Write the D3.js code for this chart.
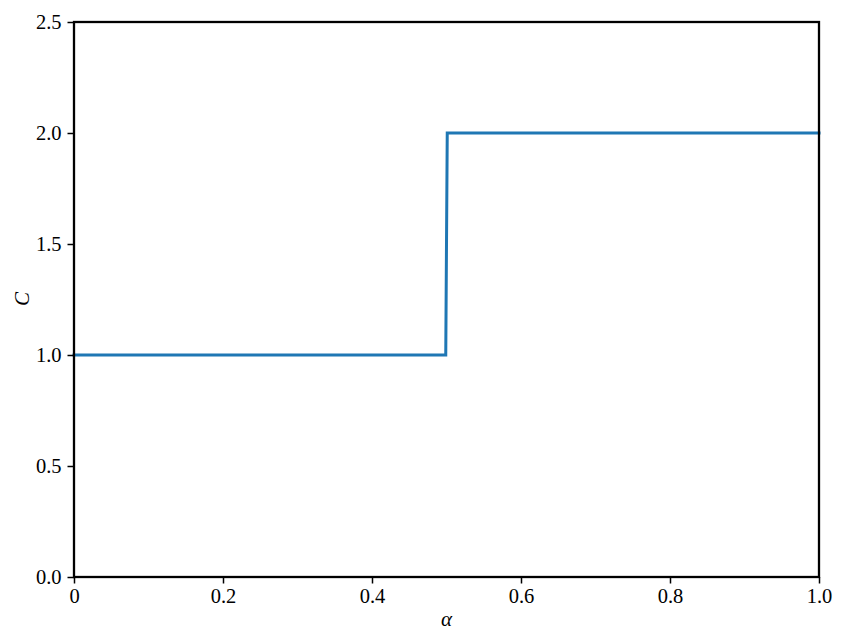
<!DOCTYPE html>
<html>
<head>
<meta charset="utf-8">
<script src="https://cdn.jsdelivr.net/npm/d3@7"></script>
<style>
  body { margin: 0; background: #fff; }
  svg text { font-family: "Liberation Serif", "DejaVu Serif", serif; }
</style>
</head>
<body>
<div id="chart"></div>
<script>
// step data: C jumps from 1 to 2 at alpha = 0.5
const alphaValues = [0, 0.499, 0.501, 1];
const cValues = [1, 1, 2, 2];
const xTicks = [0, 0.2, 0.4, 0.6, 0.8, 1.0];
const xTickLabels = ["0", "0.2", "0.4", "0.6", "0.8", "1.0"];
const yTicks = [0, 0.5, 1.0, 1.5, 2.0, 2.5];

const width = 848, height = 644;
const margin = { left: 74, right: 29, top: 22, bottom: 67 };

const svg = d3.select("#chart").append("svg")
    .attr("width", width)
    .attr("height", height);

const x = d3.scaleLinear().domain([0, 1]).range([margin.left, width - margin.right]);
const y = d3.scaleLinear().domain([0, 2.5]).range([height - margin.bottom, margin.top]);

// line
const pts = alphaValues.map((a, i) => [a, cValues[i]]);
svg.append("path")
    .datum(pts)
    .attr("fill", "none")
    .attr("stroke", "#1f77b4")
    .attr("stroke-width", 3)
    .attr("stroke-linecap", "square")
    .attr("d", d3.line().x(d => x(d[0])).y(d => y(d[1])));

// axes
const xAxis = svg.append("g")
    .attr("transform", `translate(0,${height - margin.bottom})`)
    .call(d3.axisBottom(x).tickValues(xTicks).tickFormat((d, i) => xTickLabels[i])
        .tickSizeOuter(0).tickSize(6.5).tickPadding(5));
const yAxis = svg.append("g")
    .attr("transform", `translate(${margin.left},0)`)
    .call(d3.axisLeft(y).tickValues(yTicks).tickFormat(d3.format(".1f"))
        .tickSizeOuter(0).tickSize(6.5).tickPadding(6));

[xAxis, yAxis].forEach(g => {
    g.select(".domain").remove();
    g.selectAll(".tick line").attr("stroke", "#000").attr("stroke-width", 1.5);
    g.selectAll(".tick text").attr("fill", "#000").style("font-size", "20.5px");
});
yAxis.selectAll(".tick text").attr("dy", "0.34em");

// frame
svg.append("rect")
    .attr("x", margin.left)
    .attr("y", margin.top)
    .attr("width", width - margin.left - margin.right)
    .attr("height", height - margin.top - margin.bottom)
    .attr("fill", "none")
    .attr("stroke", "#000")
    .attr("stroke-width", 2.3);

// labels
svg.append("text")
    .attr("x", (margin.left + width - margin.right) / 2)
    .attr("y", 626)
    .attr("text-anchor", "middle")
    .style("font-size", "21px")
    .style("font-style", "italic")
    .text("α");

svg.append("text")
    .attr("transform", "translate(29,299) rotate(-90)")
    .attr("text-anchor", "middle")
    .style("font-size", "21px")
    .style("font-style", "italic")
    .text("C");
</script>
</body>
</html>
